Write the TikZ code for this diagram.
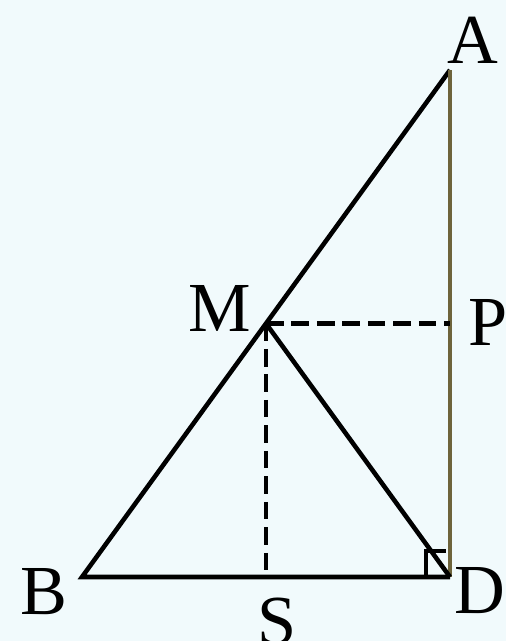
\documentclass[tikz,border=0pt]{standalone}
\usepackage{fontspec}
\setmainfont{Liberation Serif}
\usetikzlibrary{calc,positioning}
\definecolor{PaperCyan}{RGB}{241,250,252}
\definecolor{SideOlive}{RGB}{110,100,60}
\tikzset{
  edge/.style={line width=2.6pt,line join=miter},
  hidden/.style={line width=2.4pt,dash pattern=on 10pt off 4.5pt},
  ptlabel/.style={inner sep=0pt,font=\fontsize{40}{40}\selectfont}
}
\begin{document}
\begin{tikzpicture}[x=0.02cm,y=-0.02cm]
        \fill[PaperCyan] (0,0) rectangle (506,641);
        \useasboundingbox (0,0) rectangle (506,641);
        \coordinate (A) at (450,70);
        \coordinate (B) at (82,577);
        \coordinate (D) at (450,577);
        \coordinate (M) at ($(A)!0.5!(B)$);
        \coordinate (P) at (M -| D);
        \coordinate (S) at (M |- D);
        % sides
        \draw[edge] (A)--(B)--(D);
        \draw[edge,SideOlive] (D)--(A);
        \draw[edge] (M)--(D);
        \draw[hidden] (M)--(P);
        \draw[hidden] (M)--(S);
        % right angle at D
        \draw[line width=2.2pt] ($(D)+(-24,0)$)--($(D)+(-24,-26)$)--($(D)+(-4,-26)$);
        % labels
        \node[ptlabel] (lA) at (473,40) {A};
        \node[ptlabel] (lB) at (44,592) {B};
        \node[ptlabel] (lD) at (480,591) {D};
        \node[ptlabel] (lM) at (220,308) {M};
        \node[ptlabel] (lP) at (488,322) {P};
        \node[ptlabel] (lS) at (277,622) {S};
      \end{tikzpicture}
\end{document}
